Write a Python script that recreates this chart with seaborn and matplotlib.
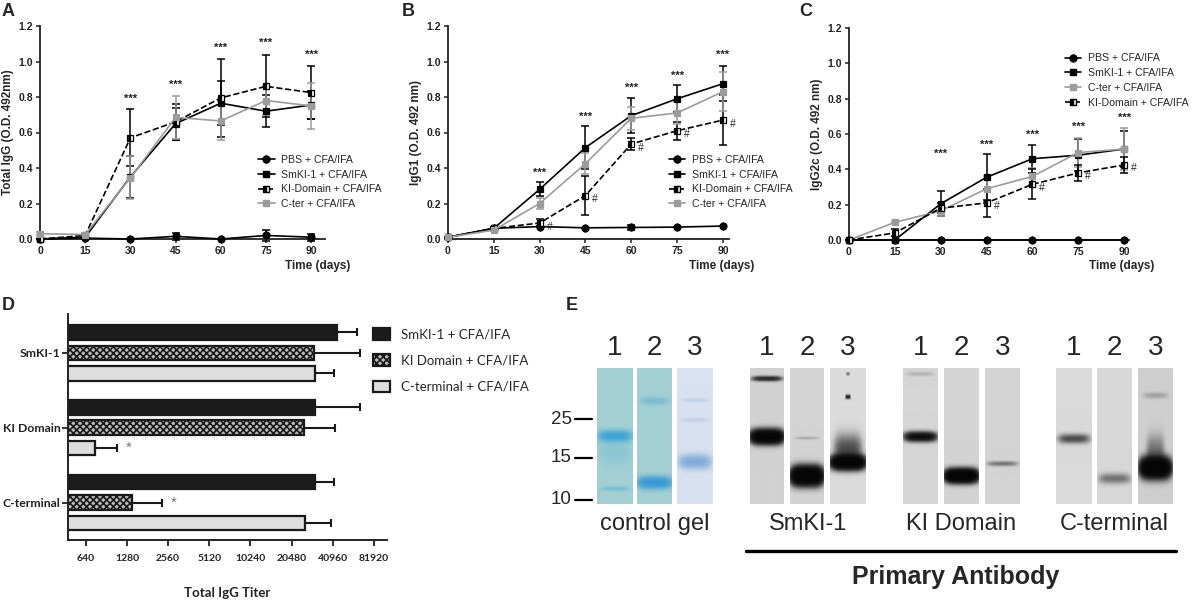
import numpy as np
import pandas as pd
import matplotlib
matplotlib.use("Agg")
import matplotlib.pyplot as plt
import seaborn as sns
from matplotlib.lines import Line2D
from matplotlib.patches import Patch

# ---------------- data ----------------
days = [0, 15, 30, 45, 60, 75, 90]

# A: total IgG (O.D. 492 nm)
igg_pbs = [0.0, 0.005, 0.0, 0.015, 0.0, 0.02, 0.01]
igg_pbs_sd = [0.0, 0.005, 0.0, 0.02, 0.0, 0.03, 0.02]
igg_smki = [0.0, 0.01, 0.35, 0.65, 0.765, 0.72, 0.755]
igg_smki_sd = [0.0, 0.005, 0.12, 0.09, 0.125, 0.09, 0.08]
igg_ki = [0.0, 0.02, 0.57, 0.66, 0.795, 0.86, 0.825]
igg_ki_sd = [0.0, 0.01, 0.16, 0.10, 0.22, 0.175, 0.15]
igg_cter = [0.03, 0.025, 0.345, 0.685, 0.665, 0.78, 0.75]
igg_cter_sd = [0.01, 0.01, 0.12, 0.12, 0.11, 0.08, 0.13]
igg_stars = [0.79, 0.87, 1.075, 1.105, 1.04]

# B: IgG1
g1_pbs = [0.01, 0.06, 0.07, 0.063, 0.065, 0.067, 0.073]
g1_pbs_sd = [0.0, 0.0, 0.005, 0.0, 0.015, 0.0, 0.0]
g1_smki = [0.01, 0.06, 0.28, 0.515, 0.695, 0.79, 0.875]
g1_smki_sd = [0.0, 0.005, 0.04, 0.12, 0.10, 0.075, 0.10]
g1_ki = [0.01, 0.06, 0.09, 0.245, 0.535, 0.61, 0.67]
g1_ki_sd = [0.0, 0.005, 0.02, 0.11, 0.035, 0.05, 0.14]
g1_cter = [0.01, 0.05, 0.2, 0.425, 0.68, 0.71, 0.83]
g1_cter_sd = [0.0, 0.005, 0.03, 0.06, 0.065, 0.06, 0.11]
g1_stars = [0.37, 0.69, 0.85, 0.92, 1.035]

# C: IgG2c
g2_pbs = [0.0, 0.0, 0.0, 0.0, 0.0, 0.0, 0.0]
g2_pbs_sd = [0.0, 0.0, 0.0, 0.0, 0.0, 0.0, 0.0]
g2_smki = [0.0, 0.0, 0.205, 0.355, 0.46, 0.48, 0.515]
g2_smki_sd = [0.0, 0.0, 0.07, 0.13, 0.08, 0.09, 0.1]
g2_cter = [0.0, 0.1, 0.165, 0.29, 0.36, 0.495, 0.515]
g2_cter_sd = [0.0, 0.005, 0.03, 0.075, 0.05, 0.08, 0.12]
g2_ki = [0.0, 0.04, 0.18, 0.21, 0.315, 0.38, 0.425]
g2_ki_sd = [0.0, 0.02, 0.03, 0.08, 0.085, 0.045, 0.045]
g2_stars = [0.49, 0.54, 0.595, 0.64, 0.69]

# D: total IgG titer
coat_groups = ["SmKI-1", "KI Domain", "C-terminal"]
sera = ["SmKI-1 + CFA/IFA", "KI Domain + CFA/IFA", "C-terminal + CFA/IFA"]
titer_smki = [43900, 30400, 30600]
titer_smki_top = [61500, 65000, 41500]
titer_ki = [29900, 25400, 1400]
titer_ki_top = [65000, 42600, 2320]
titer_cter = [30400, 745, 25700]
titer_cter_top = [41900, 1085, 39700]
titer_ticks = [640, 1280, 2560, 5120, 10240, 20480, 40960, 81920]

# E: gels / blots -- bands as (position 0=top..1=bottom, strength, thickness, half width)
gel_numbers = ["1", "2", "3"]
mw_marks = [25, 15, 10]
mw_pos = [0.375, 0.66, 0.97]
ctrl_bands = [
    [(0.50, 0.9, 0.026, 0.9), (0.62, 0.1, 0.06, 0.9), (0.89, 0.2, 0.012, 0.8)],
    [(0.24, 0.2, 0.02, 0.8), (0.845, 1.1, 0.028, 0.95)],
    [(0.69, 0.55, 0.035, 0.9), (0.235, 0.1, 0.01, 0.8), (0.38, 0.1, 0.012, 0.8)],
]
smki_bands = [
    [(0.075, 0.8, 0.012, 0.85), (0.505, 2.5, 0.032, 0.95)],
    [(0.515, 0.1, 0.008, 0.7), (0.795, 3.0, 0.042, 0.92)],
    [(0.695, 2.5, 0.032, 0.95), (0.60, 0.5, 0.07, 0.75), (0.21, 0.8, 0.01, 0.14), (0.04, 0.3, 0.008, 0.1)],
]
kid_bands = [
    [(0.505, 1.4, 0.022, 0.9), (0.04, 0.08, 0.012, 0.8)],
    [(0.795, 3.0, 0.03, 0.92)],
    [(0.705, 0.28, 0.012, 0.85)],
]
cterm_bands = [
    [(0.52, 0.5, 0.022, 0.85)],
    [(0.815, 0.3, 0.025, 0.9)],
    [(0.735, 3.0, 0.045, 0.85), (0.62, 0.3, 0.08, 0.5), (0.2, 0.12, 0.015, 0.7)],
]

# ---------------- style ----------------
sns.set_theme(style="ticks")
plt.rcParams["font.family"] = ["Liberation Sans", "DejaVu Sans"]
plt.rcParams["hatch.linewidth"] = 1.2

fig = plt.figure(figsize=(11.96, 6.02), dpi=100)
W, H = 1196.0, 602.0


def px_axes(left, top, right, bottom):
    return fig.add_axes([left / W, 1 - bottom / H, (right - left) / W, (bottom - top) / H])


series_style = {
    "PBS + CFA/IFA": dict(color="black", marker="o", linestyle="-", mfc="black", mfcalt="black"),
    "SmKI-1 + CFA/IFA": dict(color="black", marker="s", linestyle="-", mfc="black", mfcalt="black"),
    "KI-Domain + CFA/IFA": dict(color="black", marker="s", linestyle="--", mfc="black", mfcalt="white"),
    "C-ter + CFA/IFA": dict(color="#9c9c9c", marker="s", linestyle="-", mfc="#9c9c9c", mfcalt="#9c9c9c"),
}


def line_panel(ax, series, stars, hashes, ylabel, xmax, legend_anchor):
    for name, vals, sd in series:
        st = series_style[name]
        sns.lineplot(x=days, y=vals, ax=ax, color=st["color"], linestyle=st["linestyle"],
                     marker=st["marker"], markersize=5, markerfacecolor=st["mfc"],
                     fillstyle="left", markerfacecoloralt=st["mfcalt"],
                     markeredgecolor=st["color"], markeredgewidth=0.9,
                     linewidth=1.2, errorbar=None, legend=False, clip_on=False, zorder=3)
        ax.errorbar(days, vals, yerr=sd, fmt="none", ecolor=st["color"], elinewidth=1.1,
                    capsize=3, capthick=1.1, clip_on=False, zorder=2)
    for d, s in zip(days[2:], stars):
        ax.text(d, s, "***", ha="center", va="center", fontsize=8, fontweight="bold", color="#222")
    if hashes is not None:
        vals, sd, start = hashes
        for d, v in zip(days[start:], vals[start:]):
            ax.text(d + 3.2, v - 0.02, "#", ha="center", va="center", fontsize=7.5, color="#222")
    ax.set_xlim(0, xmax)
    ax.set_ylim(0, 1.2)
    ax.set_xticks(days)
    ax.set_yticks(np.arange(0, 1.21, 0.2))
    ax.set_yticklabels([f"{t:.1f}" for t in np.arange(0, 1.21, 0.2)])
    for lab in ax.get_xticklabels() + ax.get_yticklabels():
        lab.set_fontweight("bold")
        lab.set_fontsize(7.5)
    ax.tick_params(length=3, width=1.1, pad=2, colors="#222")
    for sp in ["left", "bottom"]:
        ax.spines[sp].set_linewidth(1.3)
        ax.spines[sp].set_color("#222")
    sns.despine(ax=ax)
    ax.set_ylabel(ylabel, fontsize=8.5, fontweight="bold", labelpad=3)
    ax.set_xlabel("")
    ax.text(0.975, -0.125, "Time (days)", transform=ax.transAxes, ha="center", va="center",
            fontsize=8.5, fontweight="bold")
    handles = []
    for name, _, _ in series:
        st = series_style[name]
        handles.append(Line2D([], [], color=st["color"], linestyle=st["linestyle"], marker=st["marker"],
                              markersize=5, markerfacecolor=st["mfc"], fillstyle="left",
                              markerfacecoloralt=st["mfcalt"], markeredgecolor=st["color"],
                              linewidth=1.2, label=name))
    ax.legend(handles=handles, loc="upper left", bbox_to_anchor=legend_anchor, frameon=False,
              fontsize=7.6, handlelength=1.6, handletextpad=0.6, labelspacing=0.45,
              borderpad=0, borderaxespad=0)


axA = px_axes(40, 26, 325, 239)
line_panel(axA, [("PBS + CFA/IFA", igg_pbs, igg_pbs_sd), ("SmKI-1 + CFA/IFA", igg_smki, igg_smki_sd),
                 ("KI-Domain + CFA/IFA", igg_ki, igg_ki_sd), ("C-ter + CFA/IFA", igg_cter, igg_cter_sd)],
           igg_stars, None, "Total IgG (O.D. 492nm)", 94.6, (0.765, 0.395))

axB = px_axes(448, 26, 729, 239)
line_panel(axB, [("PBS + CFA/IFA", g1_pbs, g1_pbs_sd), ("SmKI-1 + CFA/IFA", g1_smki, g1_smki_sd),
                 ("KI-Domain + CFA/IFA", g1_ki, g1_ki_sd), ("C-ter + CFA/IFA", g1_cter, g1_cter_sd)],
           g1_stars, (g1_ki, g1_ki_sd, 2), "IgG1 (O.D. 492 nm)", 92.0, (0.785, 0.395))

axC = px_axes(849, 28, 1129, 240)
line_panel(axC, [("PBS + CFA/IFA", g2_pbs, g2_pbs_sd), ("SmKI-1 + CFA/IFA", g2_smki, g2_smki_sd),
                 ("C-ter + CFA/IFA", g2_cter, g2_cter_sd), ("KI-Domain + CFA/IFA", g2_ki, g2_ki_sd)],
           g2_stars, (g2_ki, g2_ki_sd, 3), "IgG2c (O.D. 492 nm)", 91.6, (0.77, 0.88))

# ---------------- D ----------------
dfD = pd.DataFrame({
    "coat": coat_groups * 3,
    "serum": [s for s in sera for _ in coat_groups],
    "titer": titer_smki + titer_ki + titer_cter,
    "top": titer_smki_top + titer_ki_top + titer_cter_top,
})
axD = px_axes(68, 314, 387, 540)
fills = ["#1c1c1c", "#bdbdbd", "#dedede"]
sns.barplot(data=dfD, y="coat", x="titer", hue="serum", hue_order=sera, order=coat_groups,
            orient="h", palette=fills, edgecolor="#1a1a1a", linewidth=1.6, width=0.82, gap=0.29,
            legend=False, ax=axD, errorbar=None, saturation=1)
axD.set_xscale("log", base=2)
bar_sets = list(axD.containers)[:3]
for k, cont in enumerate(bar_sets):
    sub = dfD[dfD["serum"] == sera[k]]
    centers = [p.get_y() + p.get_height() / 2 for p in cont.patches]
    if k == 1:
        for p in cont.patches:
            p.set_hatch("xxxxx")
    axD.errorbar(sub["titer"], centers, xerr=[np.zeros(len(sub)), sub["top"] - sub["titer"]],
                 fmt="none", ecolor="#1a1a1a", elinewidth=1.5, capsize=3, capthick=1.5, zorder=1)
    for t, tp, c in zip(sub["titer"], sub["top"], centers):
        if t < 3000:
            axD.text(tp * 1.22, c, "*", ha="center", va="center", fontsize=11, color="#777")
axD.set_xlim(475, 102000)
axD.set_xticks(titer_ticks)
axD.set_xticklabels([str(t) for t in titer_ticks])
axD.minorticks_off()
axD.set_ylim(2.5, -0.52)
axD.set_xlabel("")
axD.set_ylabel("")
for lab in axD.get_xticklabels():
    lab.set_fontfamily("Lato")
    lab.set_fontweight("bold")
    lab.set_fontsize(7.5)
    lab.set_color("#333")
for lab in axD.get_yticklabels():
    lab.set_fontfamily("Lato")
    lab.set_fontweight("bold")
    lab.set_fontsize(8.8)
    lab.set_color("#222")
axD.tick_params(length=4, width=1.3, pad=1.5, colors="#222")
axD.tick_params(axis="x", pad=6)
for sp in ["left", "bottom"]:
    axD.spines[sp].set_linewidth(1.4)
    axD.spines[sp].set_color("#222")
sns.despine(ax=axD)
fig.text(227 / W, 1 - 593 / H, "Total IgG Titer", ha="center", va="center", fontsize=9.5,
         fontweight="bold", family="Lato", color="#222")
legD = [Patch(facecolor=fills[i], edgecolor="#1a1a1a", linewidth=1.6, hatch=("xxxxx" if i == 1 else None),
              label=sera[i]) for i in range(3)]
fig.legend(handles=legD, loc="upper left", bbox_to_anchor=(373 / W, 1 - 328 / H), frameon=False,
           prop={"family": "Lato", "size": 9.5}, handlelength=1.3, handleheight=1.0,
           handletextpad=0.8, labelspacing=1.05, borderpad=0, borderaxespad=0)

# ---------------- E ----------------
axE = fig.add_axes([0, 0, 1, 1], zorder=-1)
axE.set_xlim(0, W)
axE.set_ylim(H, 0)
axE.axis("off")

lane_top, lane_bot = 368, 504


def lane_image(bands, bg, ink, rows=136, cols=36):
    yy = np.linspace(0, 1, rows)[:, None]
    xx = np.linspace(-1, 1, cols)[None, :]
    dens = np.zeros((rows, cols))
    for pos, amp, sig, hw in bands:
        dens += amp * np.exp(-0.5 * ((yy - pos) / sig) ** 2) * np.exp(-(np.abs(xx) / hw) ** 4)
    v = 1 - np.exp(-2.2 * dens)
    bg = np.array(matplotlib.colors.to_rgb(bg))
    ink = np.array(matplotlib.colors.to_rgb(ink))
    return bg[None, None, :] * (1 - v[..., None]) + ink[None, None, :] * v[..., None]


blocks = [
    ("control gel", ctrl_bands, [(597, 633), (637, 672), (677, 713)],
     ["#a3d0d2", "#a3d0d2", "#d9e2f0"], ["#2f9fd9", "#2f95d6", "#5b94cc"]),
    ("SmKI-1", smki_bands, [(750, 784), (790, 824), (830, 866)],
     ["#d2d2d2", "#d4d4d4", "#dcdcdc"], ["#050505"] * 3),
    ("KI Domain", kid_bands, [(903, 938), (944, 979), (985, 1020)],
     ["#d6d6d6", "#d4d4d4", "#d4d4d4"], ["#050505"] * 3),
    ("C-terminal", cterm_bands, [(1056, 1092), (1097, 1132), (1138, 1173)],
     ["#dadada", "#d8d8d8", "#cfcfcf"], ["#050505"] * 3),
]
for title, bands, lanes, bgs, inks in blocks:
    for (x0, x1), b, bg, ink, num in zip(lanes, bands, bgs, inks, gel_numbers):
        axE.imshow(lane_image(b, bg, ink), extent=(x0, x1, lane_bot, lane_top), aspect="auto",
                   interpolation="bilinear")
        axE.text((x0 + x1) / 2, 348, num, ha="center", va="center", fontsize=20)
    axE.text((lanes[0][0] + lanes[-1][1]) / 2, 524, title, ha="center", va="center", fontsize=17)

for m, p in zip(mw_marks, mw_pos):
    yy = lane_top + p * (lane_bot - lane_top)
    axE.plot([575, 592], [yy, yy], color="black", lw=1.6)
    axE.text(572, yy, str(m), ha="right", va="center", fontsize=13.5)
axE.plot([746, 1176], [551, 551], color="black", lw=2.4)
axE.text(956, 577, "Primary Antibody", ha="center", va="center", fontsize=18, fontweight="bold")

# panel letters
for letter, x, y in [("A", 2, 12), ("B", 402, 12), ("C", 799, 12), ("D", 2, 306), ("E", 566, 306)]:
    fig.text(x / W, 1 - y / H, letter, ha="left", va="center", fontsize=13, fontweight="bold")

fig.savefig("out.png", dpi=100)
